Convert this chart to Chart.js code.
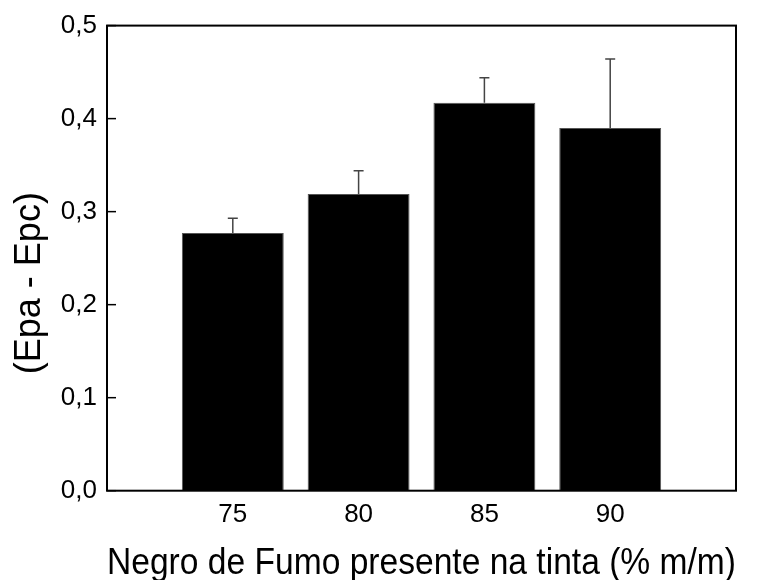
<!DOCTYPE html>
<html>
<head>
<meta charset="utf-8">
<script src="https://cdn.jsdelivr.net/npm/chart.js@4.4.1/dist/chart.umd.min.js"></script>
<style>
  body { margin: 0; background: #fff; }
  #caixa { width: 768px; height: 580px; }
</style>
</head>
<body>
<div id="caixa"><canvas id="grafico"></canvas></div>
<script>
const dosagens = [75, 80, 85, 90];
const valores = [0.277, 0.319, 0.417, 0.390];
const erros = [0.016, 0.025, 0.027, 0.074];
const ticksY = [0, 0.1, 0.2, 0.3, 0.4, 0.5];
const tituloX = "Negro de Fumo presente na tinta (% m/m)";
const tituloY = "(Epa - Epc)";

// barras de erro (so para cima), moldura e ticks para dentro
const extras = {
  id: 'extras',
  afterDatasetsDraw(chart) {
    const ctx = chart.ctx;
    const x = chart.scales.x;
    const y = chart.scales.y;
    const area = chart.chartArea;
    ctx.save();
    ctx.strokeStyle = '#444';
    ctx.lineWidth = 1.5;
    dosagens.forEach((d, i) => {
      const px = x.getPixelForValue(d);
      const yBarra = y.getPixelForValue(valores[i]);
      const yTopo = y.getPixelForValue(valores[i] + erros[i]);
      ctx.beginPath();
      ctx.moveTo(px, yBarra);
      ctx.lineTo(px, yTopo);
      ctx.moveTo(px - 5, yTopo);
      ctx.lineTo(px + 5, yTopo);
      ctx.stroke();
    });
    ctx.strokeStyle = '#000';
    ctx.lineWidth = 2;
    ctx.strokeRect(area.left, area.top, area.right - area.left, area.bottom - area.top);
    ctx.lineWidth = 1.5;
    ticksY.forEach(v => {
      const py = y.getPixelForValue(v);
      ctx.beginPath();
      ctx.moveTo(area.left, py);
      ctx.lineTo(area.left + 9, py);
      ctx.stroke();
    });
    ctx.restore();
  }
};

Chart.defaults.font.family = '"Liberation Sans", Arial, sans-serif';
Chart.defaults.color = '#000';

new Chart(document.getElementById('grafico'), {
  type: 'bar',
  data: {
    datasets: [{
      data: dosagens.map((d, i) => ({ x: d, y: valores[i] })),
      backgroundColor: '#000',
      borderColor: '#555',
      borderWidth: 1,
      categoryPercentage: 0.9,
      barPercentage: 0.9
    }]
  },
  options: {
    responsive: true,
    maintainAspectRatio: false,
    animation: false,
    layout: { padding: { top: 25, right: 32, left: 0, bottom: 0 } },
    plugins: { legend: { display: false }, tooltip: { enabled: false } },
    scales: {
      x: {
        type: 'linear',
        min: 70,
        max: 95,
        offset: false,
        grid: { display: false, drawTicks: false },
        border: { display: false },
        afterBuildTicks: s => { s.ticks = dosagens.map(v => ({ value: v })); },
        afterFit: s => { s.height = 89.3; },
        ticks: { font: { size: 26 }, padding: 9, maxRotation: 0 },
        title: {
          display: true,
          text: tituloX,
          font: { size: 36, lineHeight: 0.9 },
          padding: 0
        }
      },
      y: {
        min: 0,
        max: 0.5,
        grid: { display: false, drawTicks: false },
        border: { display: false },
        afterBuildTicks: s => { s.ticks = ticksY.map(v => ({ value: v })); },
        afterFit: s => { s.width = 107; },
        ticks: {
          font: { size: 26 },
          padding: 10,
          callback: v => v.toFixed(1).replace('.', ',')
        },
        title: {
          display: true,
          text: tituloY + '\u00a0\u00a0\u00a0\u00a0\u00a0',
          font: { size: 36 },
          padding: { top: 8, bottom: 0 }
        }
      }
    }
  },
  plugins: [extras]
});
</script>
</body>
</html>
